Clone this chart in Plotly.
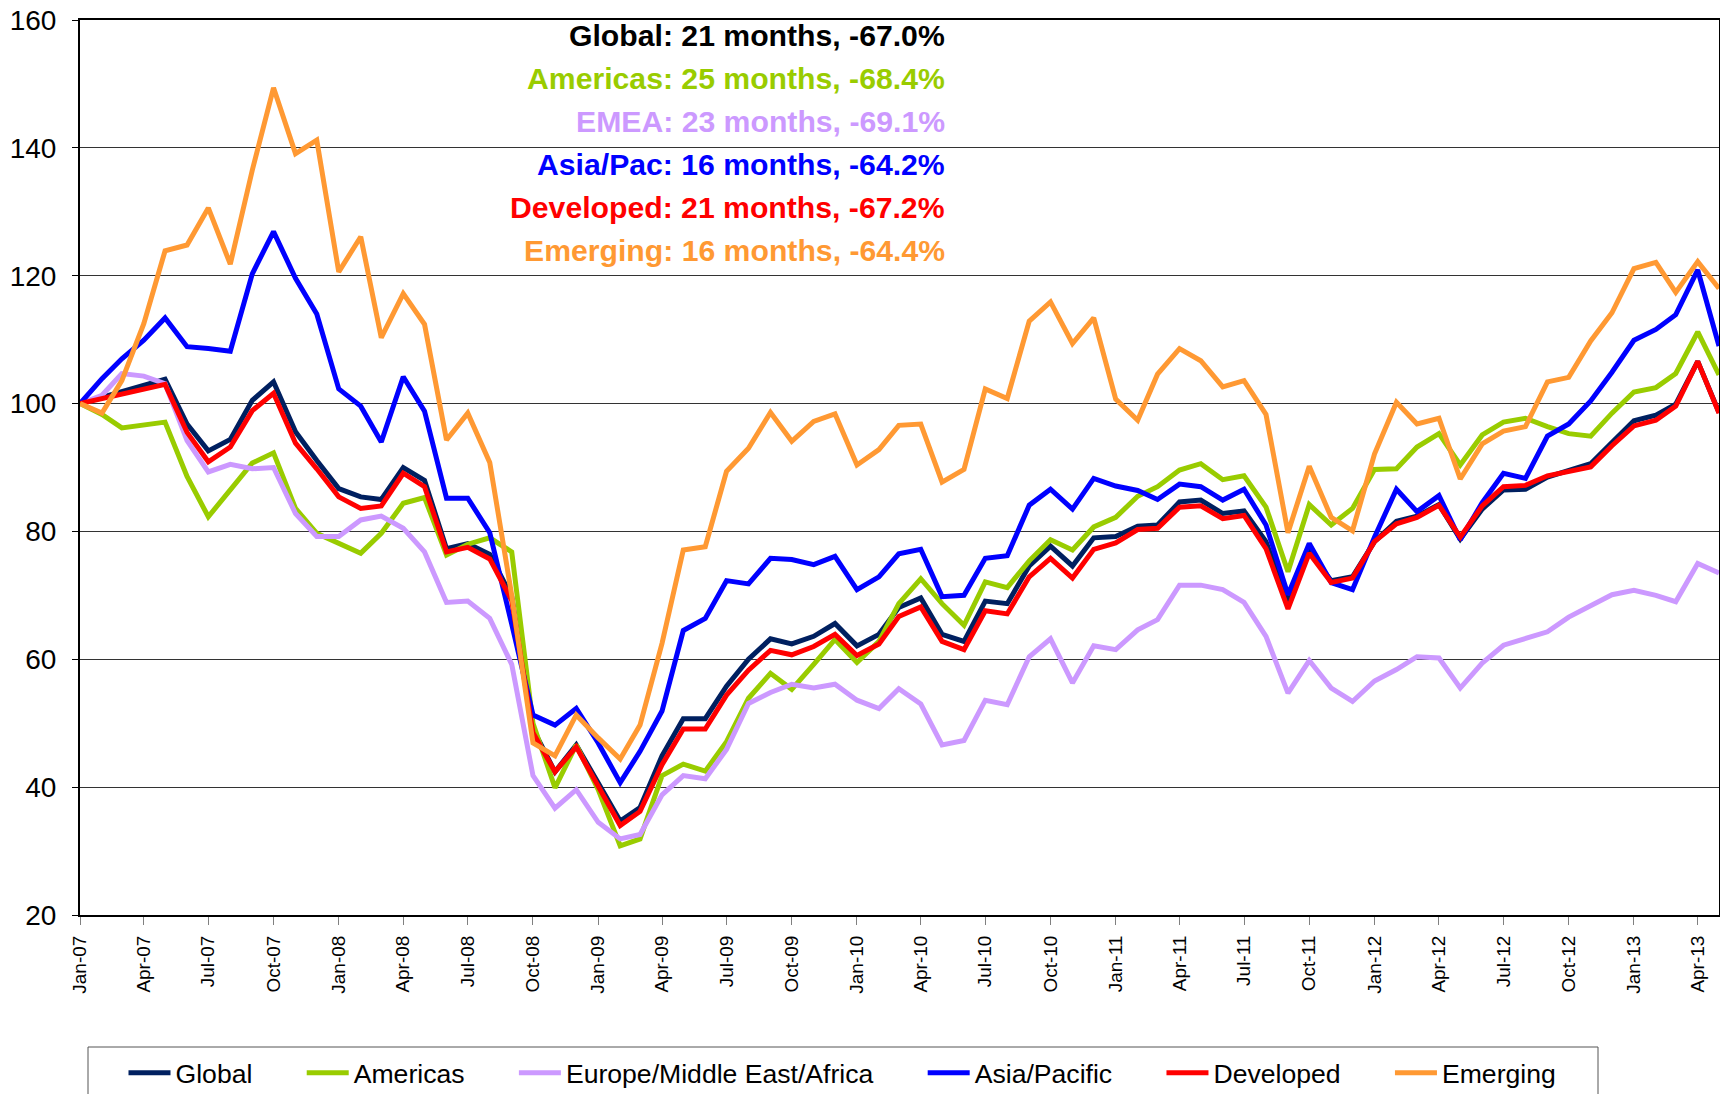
import pandas as pd
import plotly.graph_objects as go

months = pd.date_range("2007-01-01", periods=77, freq="MS")

global_idx = [100, 101.0, 101.8, 102.9, 103.8, 96.8, 92.6, 94.4, 100.5, 103.4,
              95.6, 91.1, 86.7, 85.4, 85.0, 90.0, 88.0, 77.3, 78.1, 76.4,
              69.8, 49.1, 42.4, 46.6, 40.7, 34.7, 36.8, 44.9, 50.7, 50.7,
              55.8, 60.0, 63.2, 62.4, 63.6, 65.6, 62.1, 63.9, 68.1, 69.6,
              63.9, 62.8, 69.1, 68.7, 74.6, 77.7, 74.6, 79.0, 79.2, 80.8,
              81.0, 84.6, 84.9, 82.8, 83.2, 78.4, 68.9, 76.8, 72.3, 72.9,
              78.4, 81.6, 82.4, 84.2, 78.8, 83.5, 86.5, 86.6, 88.5, 89.6,
              90.6, 93.9, 97.3, 98.2, 99.9, 106.6, 98.6]

americas = [100, 98.3, 96.2, 96.6, 97.1, 88.6, 82.3, 86.5, 90.7, 92.3,
            83.6, 79.7, 78.1, 76.6, 79.7, 84.4, 85.3, 76.3, 78.0, 79.0,
            76.8, 50.0, 39.9, 46.6, 39.6, 30.8, 31.9, 41.8, 43.6, 42.5,
            47.1, 53.9, 57.8, 55.3, 59.2, 63.1, 59.5, 62.8, 68.7, 72.6,
            68.7, 65.3, 72.1, 71.2, 75.4, 78.7, 77.1, 80.7, 82.2, 85.5,
            87.0, 89.6, 90.6, 88.1, 88.7, 83.8, 73.7, 84.2, 81.0, 83.6,
            89.7, 89.8, 93.2, 95.3, 90.4, 95.1, 97.1, 97.7, 96.4, 95.3,
            94.9, 98.5, 101.8, 102.5, 104.7, 111.2, 104.5]

emea = [100, 101.3, 104.7, 104.3, 103.1, 94.2, 89.3, 90.5, 89.8, 90.0,
        82.8, 79.2, 79.2, 81.8, 82.4, 80.5, 76.8, 68.9, 69.1, 66.4,
        59.2, 41.8, 36.7, 39.6, 34.5, 31.9, 32.6, 38.8, 41.8, 41.3,
        45.9, 53.1, 54.8, 56.1, 55.5, 56.1, 53.6, 52.3, 55.4, 53.0,
        46.6, 47.3, 53.6, 52.9, 60.4, 63.2, 56.3, 62.1, 61.5, 64.6,
        66.2, 71.6, 71.6, 70.9, 68.9, 63.6, 54.7, 59.8, 55.5, 53.4,
        56.6, 58.4, 60.4, 60.2, 55.5, 59.4, 62.2, 63.3, 64.3, 66.6,
        68.3, 70.1, 70.8, 70.0, 69.0, 75.0, 73.5]

asia_pac = [100, 103.9, 107.0, 109.9, 113.4, 108.9, 108.6, 108.2, 120.3, 126.9,
            119.6, 114.0, 102.3, 99.6, 94.0, 104.2, 98.8, 85.2, 85.2, 79.8,
            65.5, 51.3, 49.7, 52.3, 46.9, 40.7, 45.6, 51.9, 64.5, 66.4,
            72.3, 71.8, 75.8, 75.6, 74.8, 76.1, 70.9, 72.9, 76.5, 77.2,
            69.8, 70.0, 75.8, 76.2, 84.1, 86.6, 83.5, 88.3, 87.1, 86.4,
            85.0, 87.4, 87.0, 84.9, 86.6, 81.0, 70.1, 78.1, 72.0, 70.9,
            79.1, 86.6, 83.1, 85.6, 78.7, 84.5, 89.1, 88.3, 94.9, 96.8,
            100.4, 104.9, 109.9, 111.6, 113.9, 120.9, 109.0]

developed = [100, 100.8, 101.6, 102.3, 103.0, 95.5, 90.9, 93.2, 98.9, 101.6,
             93.8, 89.8, 85.4, 83.6, 84.0, 89.1, 87.0, 76.8, 77.5, 75.7,
             69.2, 48.5, 42.4, 46.3, 40.2, 34.0, 36.2, 43.5, 49.1, 49.1,
             54.4, 58.3, 61.4, 60.7, 62.0, 63.9, 60.6, 62.4, 66.7, 68.2,
             62.8, 61.5, 67.6, 67.1, 72.9, 75.8, 72.7, 77.2, 78.2, 80.3,
             80.5, 83.8, 84.0, 82.0, 82.5, 77.3, 67.9, 76.6, 72.0, 72.7,
             78.4, 81.2, 82.2, 84.1, 79.1, 84.0, 87.0, 87.2, 88.7, 89.3,
             90.1, 93.4, 96.5, 97.4, 99.6, 106.6, 98.5]

emerging = [100, 98.5, 103.6, 112.5, 123.9, 124.8, 130.6, 121.8, 136.5, 149.4,
            139.1, 141.2, 120.6, 126.1, 110.3, 117.2, 112.4, 94.3, 98.5, 90.8,
            70.0, 46.9, 44.9, 51.3, 47.7, 44.4, 49.7, 62.5, 77.1, 77.6,
            89.4, 93.0, 98.6, 94.1, 97.2, 98.4, 90.4, 92.8, 96.6, 96.8,
            87.7, 89.7, 102.3, 100.8, 112.9, 115.9, 109.4, 113.4, 100.7, 97.4,
            104.6, 108.6, 106.7, 102.6, 103.6, 98.3, 79.8, 90.2, 82.2, 80.1,
            92.1, 100.2, 96.8, 97.7, 88.2, 93.7, 95.7, 96.4, 103.4, 104.1,
            109.8, 114.2, 121.1, 122.1, 117.4, 122.2, 118.0]

series_names = ["Global", "Americas", "Europe/Middle East/Africa", "Asia/Pacific", "Developed", "Emerging"]
series_values = [global_idx, americas, emea, asia_pac, developed, emerging]
series_colors = ["#002060", "#99CC00", "#CC99FF", "#0000FF", "#FF0000", "#FF9933"]

note_texts = ["Global: 21 months, -67.0%", "Americas: 25 months, -68.4%", "EMEA: 23 months, -69.1%",
              "Asia/Pac: 16 months, -64.2%", "Developed: 21 months, -67.2%", "Emerging: 16 months, -64.4%"]
note_colors = ["#000000", "#99CC00", "#CC99FF", "#0000FF", "#FF0000", "#FF9933"]

FONT = "Liberation Sans, Arial, sans-serif"
PAD = "\u00a0" * 6

fig = go.Figure()
for name, vals, col in zip(series_names, series_values, series_colors):
    fig.add_trace(go.Scatter(x=months, y=vals, mode="lines", name=name + PAD,
                             line=dict(color=col, width=5)))

# the page body has an 8px margin, so the figure is sized 8px smaller
W, H = 1720, 1086
ml, mr, mt, mb = 72, 9, 12, 179
pw, ph = W - ml - mr, H - mt - mb


def px_x(x):
    return (x - ml) / pw


def px_y(y):
    return 1 - (y - mt) / ph


for k, (t, c) in enumerate(zip(note_texts, note_colors)):
    fig.add_annotation(text="<b>" + t + "</b>", xref="paper", yref="paper",
                       x=px_x(939), y=px_y(27.5 + 43 * k),
                       xanchor="right", yanchor="middle", showarrow=False,
                       font=dict(family=FONT, size=30.2, color=c))

# legend frame
fig.add_shape(type="rect", xref="paper", yref="paper",
              x0=px_x(80), x1=px_x(1590), y0=px_y(1039), y1=px_y(1100),
              line=dict(color="#555555", width=1), fillcolor="rgba(0,0,0,0)", layer="above")

fig.update_layout(
    width=W, height=H,
    margin=dict(l=ml, r=mr, t=mt, b=mb, autoexpand=False),
    paper_bgcolor="white", plot_bgcolor="white",
    font=dict(family=FONT, size=22, color="black"),
    showlegend=True,
    legend=dict(orientation="h", x=px_x(115.5), y=px_y(1041),
                xanchor="left", yanchor="top",
                borderwidth=0, bgcolor="rgba(0,0,0,0)",
                font=dict(family=FONT, size=26.6, color="black"),
                itemwidth=42, tracegroupgap=0),
)
fig.update_xaxes(type="date", range=[months[0], months[-1]], automargin=False,
                 tickformat="%b-%y", dtick="M3", tick0=months[0], tickangle=-90,
                 ticks="outside", ticklen=8, tickcolor="#808080",
                 showline=True, linecolor="black", linewidth=2, mirror=True,
                 showgrid=False, tickfont=dict(family=FONT, size=19),
                 ticklabelstandoff=3, ticklabeloverflow="allow")
fig.update_yaxes(range=[20, 160], dtick=20, ticks="outside", ticklen=6, tickcolor="black",
                 automargin=False, ticklabelstandoff=10, ticklabeloverflow="allow",
                 showline=True, linecolor="black", linewidth=2, mirror=True,
                 showgrid=True, gridcolor="#333333", gridwidth=1,
                 tickfont=dict(family=FONT, size=28), zeroline=False)

fig.write_html("out.html")
